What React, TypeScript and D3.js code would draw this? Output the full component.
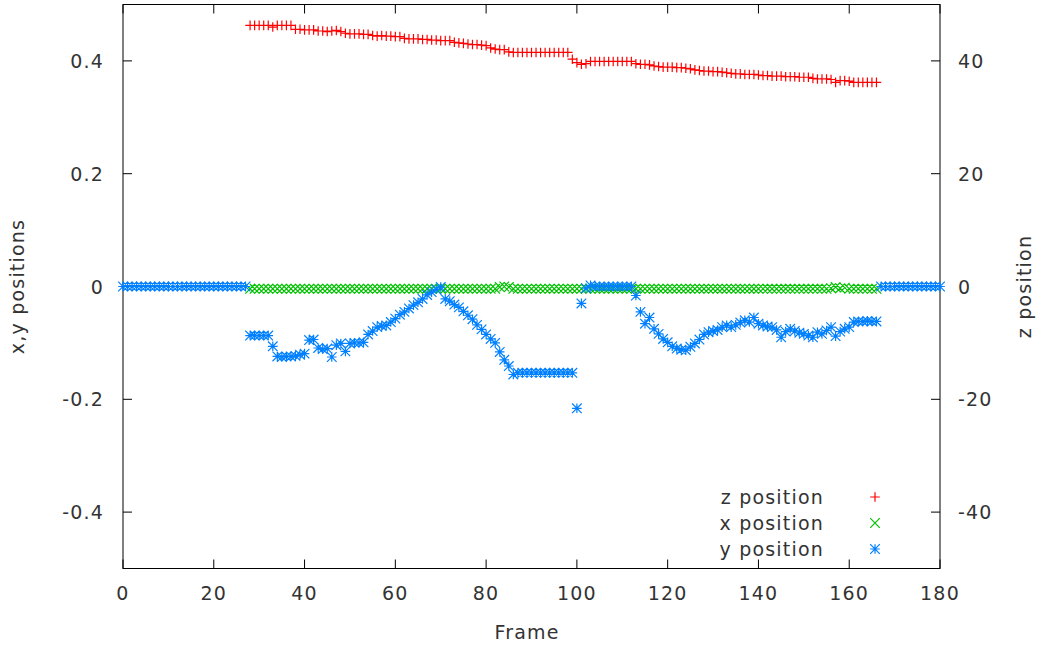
import React from 'react';
import * as d3 from 'd3';

// frames start where each series begins
const zStart = 28;
const xStart = 28;
const yStart = 0;

const xTickValues = [0, 20, 40, 60, 80, 100, 120, 140, 160, 180];
const leftTickValues = [-0.4, -0.2, 0, 0.2, 0.4];
const leftTickLabels = ['-0.4', '-0.2', '0', '0.2', '0.4'];
const rightTickValues = [-40, -20, 0, 20, 40];
const rightTickLabels = ['-40', '-20', '0', '20', '40'];

// z position (right axis), frames 28..166
const zValues = [
  46.3, 46.3, 46.3, 46.3, 46.3, 46.0, 46.3, 46.3, 46.3, 46.3,
  45.6, 45.6, 45.5, 45.5, 45.5,
  45.3, 45.3, 45.2, 45.3, 45.4, 45.2,
  44.9, 44.8, 44.8, 44.8, 44.7, 44.7,
  44.5, 44.4, 44.5, 44.4, 44.4, 44.3, 44.3,
  44.0, 43.9, 43.9, 43.9, 43.8, 43.8,
  43.7, 43.7, 43.6, 43.6, 43.6,
  43.3, 43.2, 43.1, 43.0, 42.9, 42.9, 42.8, 42.7,
  42.3, 42.1, 42.0, 42.0,
  41.6, 41.5, 41.5, 41.5, 41.5, 41.5, 41.5, 41.5, 41.5, 41.5, 41.5, 41.5, 41.5, 41.5,
  40.3,
  39.7, 39.4, 39.5,
  39.9, 39.9, 39.9, 39.9, 39.9, 39.9, 39.9, 39.9, 39.9, 39.9,
  39.5, 39.4, 39.4, 39.3,
  39.1, 39.0, 38.9, 38.9, 38.9, 38.8, 38.8, 38.7, 38.6,
  38.4, 38.3, 38.2, 38.2, 38.1, 38.1, 38.0, 37.9,
  37.8, 37.7, 37.7, 37.6, 37.6, 37.6, 37.5,
  37.4, 37.4, 37.3, 37.3, 37.3, 37.2, 37.2, 37.2, 37.1, 37.1, 37.1,
  36.9, 36.8, 36.8, 36.8, 36.7,
  36.2,
  36.5, 36.5, 36.4,
  36.2, 36.2, 36.2, 36.2, 36.2, 36.2,
];

// x position (left axis), frames 28..166
const xValues = [
  -0.004, -0.004, -0.004, -0.004, -0.004, -0.004, -0.004, -0.004, -0.004, -0.004,
  -0.004, -0.004, -0.004, -0.004, -0.004, -0.004, -0.004, -0.004, -0.004, -0.004,
  -0.004, -0.004, -0.004, -0.004, -0.004, -0.004, -0.004, -0.004, -0.004, -0.004,
  -0.004, -0.004, -0.004, -0.004, -0.004, -0.004, -0.004, -0.004, -0.004, -0.004,
  -0.004, -0.004, -0.004, -0.004, -0.004, -0.004, -0.004, -0.004, -0.004, -0.004,
  -0.004, -0.004, -0.004, -0.004, -0.004, -0.001, 0.000, -0.001, -0.004, -0.004,
  -0.004, -0.004, -0.004, -0.004, -0.004, -0.004, -0.004, -0.004, -0.004, -0.004,
  -0.004, -0.004, -0.004, -0.004, -0.004, -0.004, -0.004, -0.004, -0.004, -0.004,
  -0.004, -0.004, -0.004, -0.004, -0.004, -0.004, -0.004, -0.004, -0.004, -0.004,
  -0.004, -0.004, -0.004, -0.004, -0.004, -0.004, -0.004, -0.004, -0.004, -0.004,
  -0.004, -0.004, -0.004, -0.004, -0.004, -0.004, -0.004, -0.004, -0.004, -0.004,
  -0.004, -0.004, -0.004, -0.004, -0.004, -0.004, -0.004, -0.004, -0.004, -0.004,
  -0.004, -0.004, -0.004, -0.004, -0.004, -0.004, -0.004, -0.004, -0.003, -0.001,
  -0.003, -0.002, -0.004, -0.004, -0.004, -0.004, -0.004, -0.004, -0.004,
];

// y position (left axis), frames 0..180
const yValues = [
  0, 0, 0, 0, 0, 0, 0, 0, 0, 0,
  0, 0, 0, 0, 0, 0, 0, 0, 0, 0,
  0, 0, 0, 0, 0, 0, 0, 0,
  -0.087, -0.087, -0.087, -0.087, -0.087,
  -0.106,
  -0.124, -0.125, -0.124, -0.124, -0.123,
  -0.121, -0.119,
  -0.095, -0.094,
  -0.109, -0.111, -0.110,
  -0.125, -0.104, -0.101, -0.115,
  -0.101, -0.100, -0.100, -0.099,
  -0.085, -0.079, -0.072, -0.070, -0.069, -0.063, -0.057, -0.050, -0.045, -0.039,
  -0.033, -0.028, -0.022, -0.015, -0.010, -0.005, -0.001, -0.022, -0.026, -0.032,
  -0.037, -0.044, -0.051, -0.058, -0.068, -0.076, -0.085, -0.093, -0.100, -0.116,
  -0.130, -0.141, -0.156,
  -0.153, -0.153, -0.153, -0.153, -0.153, -0.153, -0.153, -0.153, -0.153, -0.153,
  -0.153, -0.153, -0.153,
  -0.216, -0.030, -0.003, 0.002,
  0, 0, 0, 0, 0, 0, 0, 0, 0,
  -0.016, -0.045, -0.066, -0.055, -0.075, -0.084, -0.093, -0.099, -0.106, -0.110,
  -0.112, -0.113, -0.107, -0.101, -0.094, -0.085, -0.081, -0.079, -0.077, -0.072,
  -0.069, -0.072, -0.068, -0.064, -0.060, -0.063, -0.055, -0.066, -0.069, -0.071,
  -0.072, -0.077, -0.090, -0.080, -0.075, -0.079, -0.082, -0.084, -0.087, -0.090,
  -0.081, -0.084, -0.078, -0.072, -0.088, -0.080, -0.075, -0.072, -0.063, -0.062,
  -0.062, -0.061, -0.062, -0.062,
  0, 0, 0, 0, 0, 0, 0, 0, 0, 0, 0, 0, 0, 0,
];

const W = 1050;
const H = 649;
const left = 123;
const right = 940;
const top = 4.5;
const bottom = 568.5;
const tick = 9;
const font = '"DejaVu Sans", sans-serif';
const textColor = '#333';

const RED = '#ff0000';
const GREEN = '#00c000';
const BLUE = '#0080ff';

const S = 4.8; // half marker size
const plusPath = (cx: number, cy: number) =>
  `M${cx - S},${cy}H${cx + S}M${cx},${cy - S}V${cy + S}`;
const crossPath = (cx: number, cy: number) =>
  `M${cx - S},${cy - S}L${cx + S},${cy + S}M${cx - S},${cy + S}L${cx + S},${cy - S}`;
const starPath = (cx: number, cy: number) => plusPath(cx, cy) + crossPath(cx, cy);

const textStyle = { fontFamily: font, fontSize: 19, letterSpacing: 1.2, fill: textColor };

export default function App() {
  const x = d3.scaleLinear().domain([0, 180]).range([left, right]);
  const yL = d3.scaleLinear().domain([-0.5, 0.5]).range([bottom, top]);
  const yR = d3.scaleLinear().domain([-50, 50]).range([bottom, top]);

  const zPath = zValues.map((v, i) => plusPath(x(zStart + i), yR(v))).join('');
  const xPath = xValues.map((v, i) => crossPath(x(xStart + i), yL(v))).join('');
  const yPath = yValues.map((v, i) => starPath(x(yStart + i), yL(v))).join('');

  const legend = [
    { label: 'z position', color: RED, shape: plusPath },
    { label: 'x position', color: GREEN, shape: crossPath },
    { label: 'y position', color: BLUE, shape: starPath },
  ];

  return (
    <svg width={W} height={H} style={{ position: 'absolute', left: 0, top: 0, background: '#fff' }}>
      {/* x ticks, bottom and mirrored on top */}
      {xTickValues.map((t) => (
        <g key={'x' + t}>
          <line x1={x(t)} x2={x(t)} y1={bottom} y2={bottom - tick} stroke="#000" />
          <line x1={x(t)} x2={x(t)} y1={top} y2={top + tick} stroke="#000" />
          <text x={x(t)} y={600} textAnchor="middle" style={textStyle}>{t}</text>
        </g>
      ))}
      {leftTickValues.map((t, i) => (
        <g key={'l' + t}>
          <line x1={left} x2={left + tick} y1={yL(t)} y2={yL(t)} stroke="#000" />
          <text x={104} y={yL(t) + 7} textAnchor="end" style={textStyle}>{leftTickLabels[i]}</text>
        </g>
      ))}
      {rightTickValues.map((t, i) => (
        <g key={'r' + t}>
          <line x1={right} x2={right - tick} y1={yR(t)} y2={yR(t)} stroke="#000" />
          <text x={958} y={yR(t) + 7} textAnchor="start" style={textStyle}>{rightTickLabels[i]}</text>
        </g>
      ))}
      <rect x={left} y={top} width={right - left} height={bottom - top} fill="none" stroke="#000" />

      <text x={527} y={639} textAnchor="middle" style={textStyle}>Frame</text>
      <text transform={`translate(24,${(top + bottom) / 2}) rotate(-90)`} textAnchor="middle" style={textStyle}>
        x,y positions
      </text>
      <text transform={`translate(1031,${(top + bottom) / 2}) rotate(-90)`} textAnchor="middle" style={textStyle}>
        z position
      </text>

      <path d={zPath} stroke={RED} strokeWidth={1.2} fill="none" />
      <path d={xPath} stroke={GREEN} strokeWidth={1.2} fill="none" />
      <path d={yPath} stroke={BLUE} strokeWidth={1.2} fill="none" />

      {legend.map((l, i) => (
        <g key={l.label}>
          <text x={824} y={504 + i * 26} textAnchor="end" style={textStyle}>{l.label}</text>
          <path d={l.shape(875, 497 + i * 26)} stroke={l.color} strokeWidth={1.2} fill="none" />
        </g>
      ))}
    </svg>
  );
}
